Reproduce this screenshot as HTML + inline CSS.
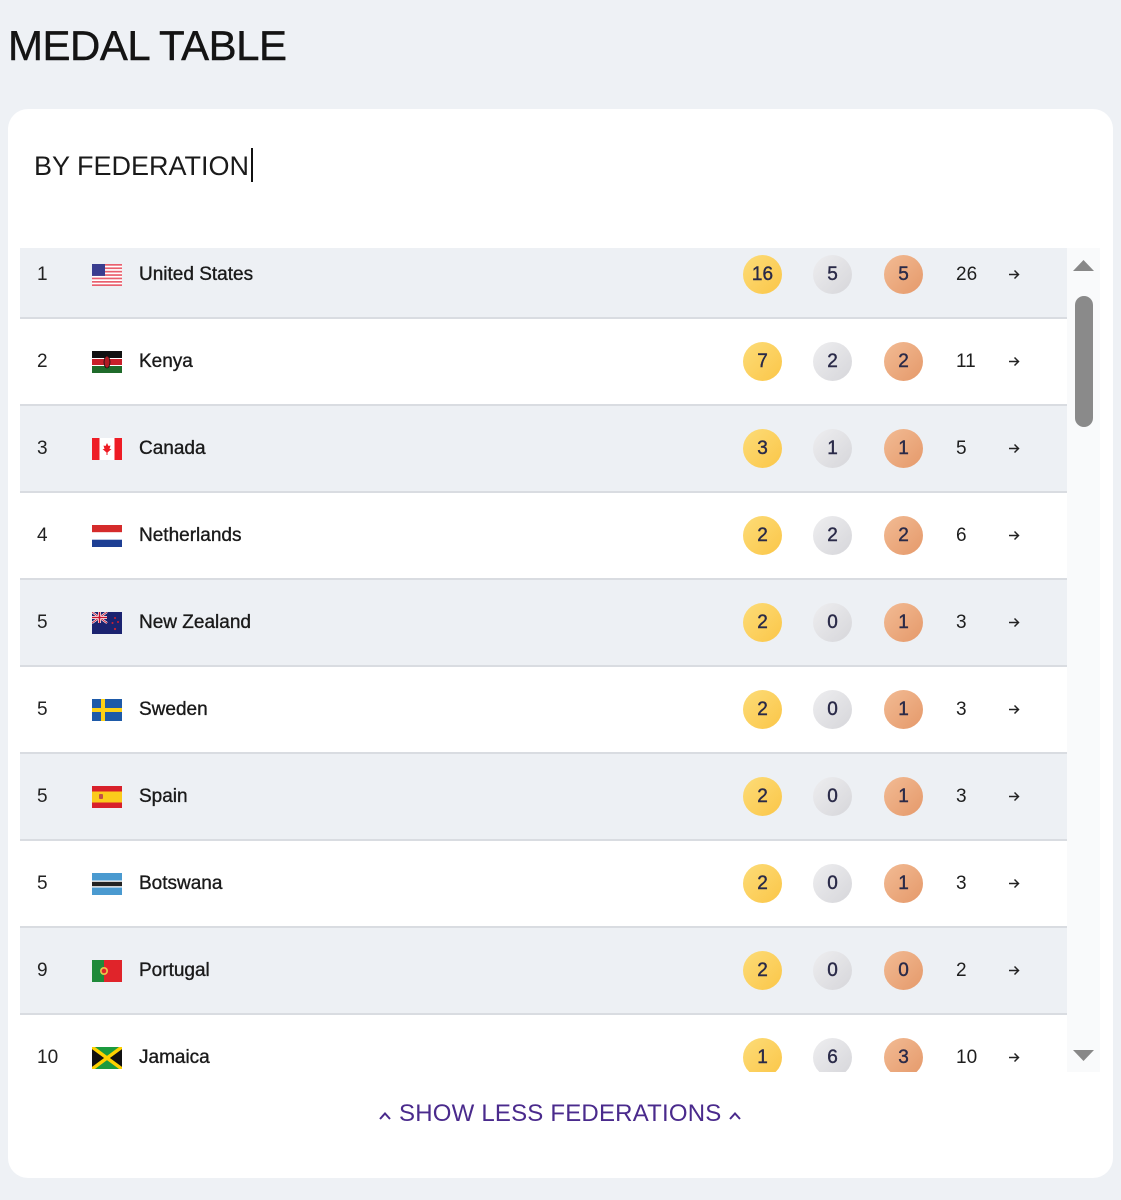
<!DOCTYPE html>
<html><head><meta charset="utf-8"><style>
html,body{margin:0;padding:0}
body{width:1121px;height:1200px;background:#eef1f5;position:relative;overflow:hidden;font-family:"Liberation Sans",sans-serif;color:#1c1c1c}
.title{position:absolute;left:8px;top:25px;font-size:42px;line-height:42px;letter-spacing:-0.5px;color:#141414;-webkit-text-stroke:0.4px #141414;white-space:nowrap}
.card{position:absolute;left:8px;top:109px;width:1105px;height:1069px;background:#fff;border-radius:20px}
.sub{position:absolute;left:34px;top:153px;font-size:27px;line-height:27px;color:#1a1a1a;white-space:nowrap}
.cursor{position:absolute;left:251px;top:148px;width:2px;height:34px;background:#111}
.list{position:absolute;left:20px;top:248px;width:1047px;height:824px;overflow:hidden}
.row{position:absolute;left:0;width:1047px;height:85px;border-bottom:2px solid #d9dce1;background:#fff;margin-top:1px}
.row.g{background:#edf0f4}
.row>*{position:absolute}
.rank{left:17px;top:33px;font-size:19px;line-height:19px;color:#222}
.flag{left:72px;top:32px;width:30px;height:22px}
.name{left:119px;top:33px;font-size:19px;line-height:19px;color:#1a1a1a;-webkit-text-stroke:0.35px #1a1a1a;white-space:nowrap}
.m{top:23px;width:39px;height:39px;border-radius:50%;text-align:center;line-height:39px;font-size:19px;color:#2a2a48;-webkit-text-stroke:0.4px #2a2a48}
.au{left:723px;background:linear-gradient(135deg,#fcdc78,#fbc648)}
.ag{left:793px;background:linear-gradient(135deg,#eeeef0,#d6d6da)}
.cu{left:864px;background:linear-gradient(135deg,#f2bb94,#e5996a)}
.tot{left:936px;top:33px;font-size:19px;line-height:19px;color:#1e1e1e}
.arr{left:988px;top:37px;width:12px;height:11px}
.track{position:absolute;left:1067px;top:248px;width:33px;height:824px;background:#f9fafb}
.thumb{position:absolute;left:1075px;top:296px;width:18px;height:131px;background:#8a8a8a;border-radius:9px}
.show{position:absolute;left:399px;top:1102px;font-size:24px;line-height:24px;letter-spacing:0.2px;color:#4a2a8c;white-space:nowrap}
</style></head><body>
<div class="title">MEDAL TABLE</div>
<div class="card"></div>
<div class="sub">BY FEDERATION</div>
<div class="cursor"></div>

<div class="list">
<div class="row g" style="top:-17px">
<div class="rank">1</div>
<svg class="flag" viewBox="0 0 30 22"><rect width="30" height="22" fill="#fff"/><g fill="#e9606e"><rect y="0" width="30" height="1.7"/><rect y="3.4" width="30" height="1.7"/><rect y="6.8" width="30" height="1.7"/><rect y="10.2" width="30" height="1.7"/><rect y="13.6" width="30" height="1.7"/><rect y="17" width="30" height="1.7"/><rect y="20.3" width="30" height="1.7"/></g><rect width="13" height="11.9" fill="#3a3d8f"/></svg>
<div class="name">United States</div>
<div class="m au">16</div><div class="m ag">5</div><div class="m cu">5</div>
<div class="tot">26</div>
<svg class="arr" viewBox="0 0 12 11"><path d="M1 5.5H10.5M6.5 1.5L10.5 5.5L6.5 9.5" stroke="#222" stroke-width="1.5" fill="none"/></svg>
</div>
<div class="row" style="top:70px">
<div class="rank">2</div>
<svg class="flag" viewBox="0 0 30 22"><rect width="30" height="7" fill="#111"/><rect y="7" width="30" height="8" fill="#fff"/><rect y="8" width="30" height="6" fill="#c8202a"/><rect y="15" width="30" height="7" fill="#1f6b2a"/><ellipse cx="15" cy="11" rx="3" ry="6" fill="#b01c24" stroke="#111" stroke-width="0.8"/></svg>
<div class="name">Kenya</div>
<div class="m au">7</div><div class="m ag">2</div><div class="m cu">2</div>
<div class="tot">11</div>
<svg class="arr" viewBox="0 0 12 11"><path d="M1 5.5H10.5M6.5 1.5L10.5 5.5L6.5 9.5" stroke="#222" stroke-width="1.5" fill="none"/></svg>
</div>
<div class="row g" style="top:157px">
<div class="rank">3</div>
<svg class="flag" viewBox="0 0 30 22"><rect width="30" height="22" fill="#fff"/><rect width="7.5" height="22" fill="#ee1c25"/><rect x="22.5" width="7.5" height="22" fill="#ee1c25"/><path d="M15 5L16.5 8L18.5 7.5L17.5 11L19.5 11L15 15L10.5 11L12.5 11L11.5 7.5L13.5 8Z" fill="#ee1c25"/><rect x="14.5" y="14" width="1" height="3" fill="#ee1c25"/></svg>
<div class="name">Canada</div>
<div class="m au">3</div><div class="m ag">1</div><div class="m cu">1</div>
<div class="tot">5</div>
<svg class="arr" viewBox="0 0 12 11"><path d="M1 5.5H10.5M6.5 1.5L10.5 5.5L6.5 9.5" stroke="#222" stroke-width="1.5" fill="none"/></svg>
</div>
<div class="row" style="top:244px">
<div class="rank">4</div>
<svg class="flag" viewBox="0 0 30 22"><rect width="30" height="7.3" fill="#d52b2b"/><rect y="7.3" width="30" height="7.4" fill="#fff"/><rect y="14.7" width="30" height="7.3" fill="#1e3f94"/></svg>
<div class="name">Netherlands</div>
<div class="m au">2</div><div class="m ag">2</div><div class="m cu">2</div>
<div class="tot">6</div>
<svg class="arr" viewBox="0 0 12 11"><path d="M1 5.5H10.5M6.5 1.5L10.5 5.5L6.5 9.5" stroke="#222" stroke-width="1.5" fill="none"/></svg>
</div>
<div class="row g" style="top:331px">
<div class="rank">5</div>
<svg class="flag" viewBox="0 0 30 22"><rect width="30" height="22" fill="#1b2370"/><rect width="15" height="11" fill="#1b2370"/><path d="M0 0L15 11M15 0L0 11" stroke="#fff" stroke-width="2.2"/><path d="M0 0L15 11M15 0L0 11" stroke="#c8102e" stroke-width="0.8"/><path d="M7.5 0V11M0 5.5H15" stroke="#fff" stroke-width="3"/><path d="M7.5 0V11M0 5.5H15" stroke="#c8102e" stroke-width="1.6"/><g fill="#d02030"><circle cx="23" cy="6" r="1"/><circle cx="26" cy="10" r="1"/><circle cx="20.5" cy="11" r="1"/><circle cx="23" cy="17" r="1.1"/></g></svg>
<div class="name">New Zealand</div>
<div class="m au">2</div><div class="m ag">0</div><div class="m cu">1</div>
<div class="tot">3</div>
<svg class="arr" viewBox="0 0 12 11"><path d="M1 5.5H10.5M6.5 1.5L10.5 5.5L6.5 9.5" stroke="#222" stroke-width="1.5" fill="none"/></svg>
</div>
<div class="row" style="top:418px">
<div class="rank">5</div>
<svg class="flag" viewBox="0 0 30 22"><rect width="30" height="22" fill="#1e5aa8"/><rect x="9" width="4" height="22" fill="#fcd116"/><rect y="9" width="30" height="4" fill="#fcd116"/></svg>
<div class="name">Sweden</div>
<div class="m au">2</div><div class="m ag">0</div><div class="m cu">1</div>
<div class="tot">3</div>
<svg class="arr" viewBox="0 0 12 11"><path d="M1 5.5H10.5M6.5 1.5L10.5 5.5L6.5 9.5" stroke="#222" stroke-width="1.5" fill="none"/></svg>
</div>
<div class="row g" style="top:505px">
<div class="rank">5</div>
<svg class="flag" viewBox="0 0 30 22"><rect width="30" height="22" fill="#d8202a"/><rect y="5.5" width="30" height="11" fill="#fbcb1b"/><rect x="7" y="8" width="4" height="5" fill="#c0504a" rx="1"/></svg>
<div class="name">Spain</div>
<div class="m au">2</div><div class="m ag">0</div><div class="m cu">1</div>
<div class="tot">3</div>
<svg class="arr" viewBox="0 0 12 11"><path d="M1 5.5H10.5M6.5 1.5L10.5 5.5L6.5 9.5" stroke="#222" stroke-width="1.5" fill="none"/></svg>
</div>
<div class="row" style="top:592px">
<div class="rank">5</div>
<svg class="flag" viewBox="0 0 30 22"><rect width="30" height="22" fill="#4a9ad0"/><rect y="7.5" width="30" height="7" fill="#fff"/><rect y="8.8" width="30" height="4.4" fill="#222"/></svg>
<div class="name">Botswana</div>
<div class="m au">2</div><div class="m ag">0</div><div class="m cu">1</div>
<div class="tot">3</div>
<svg class="arr" viewBox="0 0 12 11"><path d="M1 5.5H10.5M6.5 1.5L10.5 5.5L6.5 9.5" stroke="#222" stroke-width="1.5" fill="none"/></svg>
</div>
<div class="row g" style="top:679px">
<div class="rank">9</div>
<svg class="flag" viewBox="0 0 30 22"><rect width="30" height="22" fill="#e0242a"/><rect width="12" height="22" fill="#1f8a3a"/><circle cx="12" cy="11" r="4" fill="#e8c34a"/><circle cx="12" cy="11" r="2.3" fill="#e0242a"/></svg>
<div class="name">Portugal</div>
<div class="m au">2</div><div class="m ag">0</div><div class="m cu">0</div>
<div class="tot">2</div>
<svg class="arr" viewBox="0 0 12 11"><path d="M1 5.5H10.5M6.5 1.5L10.5 5.5L6.5 9.5" stroke="#222" stroke-width="1.5" fill="none"/></svg>
</div>
<div class="row" style="top:766px">
<div class="rank">10</div>
<svg class="flag" viewBox="0 0 30 22"><rect width="30" height="22" fill="#1b9a3e"/><path d="M0 0L13 11L0 22Z" fill="#111"/><path d="M30 0L17 11L30 22Z" fill="#111"/><path d="M0 0L30 22M30 0L0 22" stroke="#fed100" stroke-width="3.5"/></svg>
<div class="name">Jamaica</div>
<div class="m au">1</div><div class="m ag">6</div><div class="m cu">3</div>
<div class="tot">10</div>
<svg class="arr" viewBox="0 0 12 11"><path d="M1 5.5H10.5M6.5 1.5L10.5 5.5L6.5 9.5" stroke="#222" stroke-width="1.5" fill="none"/></svg>
</div>
</div>

<div class="track"></div>
<svg style="position:absolute;left:1072px;top:259px" width="23" height="13" viewBox="0 0 23 13"><path d="M11.5 1L22 12H1Z" fill="#888"/></svg>
<div class="thumb"></div>
<svg style="position:absolute;left:1072px;top:1049px" width="23" height="13" viewBox="0 0 23 13"><path d="M1 1H22L11.5 12Z" fill="#888"/></svg>

<svg style="position:absolute;left:378px;top:1110px" width="14" height="11" viewBox="0 0 14 11"><path d="M2 9L7 3.5L12 9" stroke="#4a2a8c" stroke-width="2" fill="none"/></svg>
<div class="show">SHOW LESS FEDERATIONS</div>
<svg style="position:absolute;left:728px;top:1110px" width="14" height="11" viewBox="0 0 14 11"><path d="M2 9L7 3.5L12 9" stroke="#4a2a8c" stroke-width="2" fill="none"/></svg>
</body></html>
